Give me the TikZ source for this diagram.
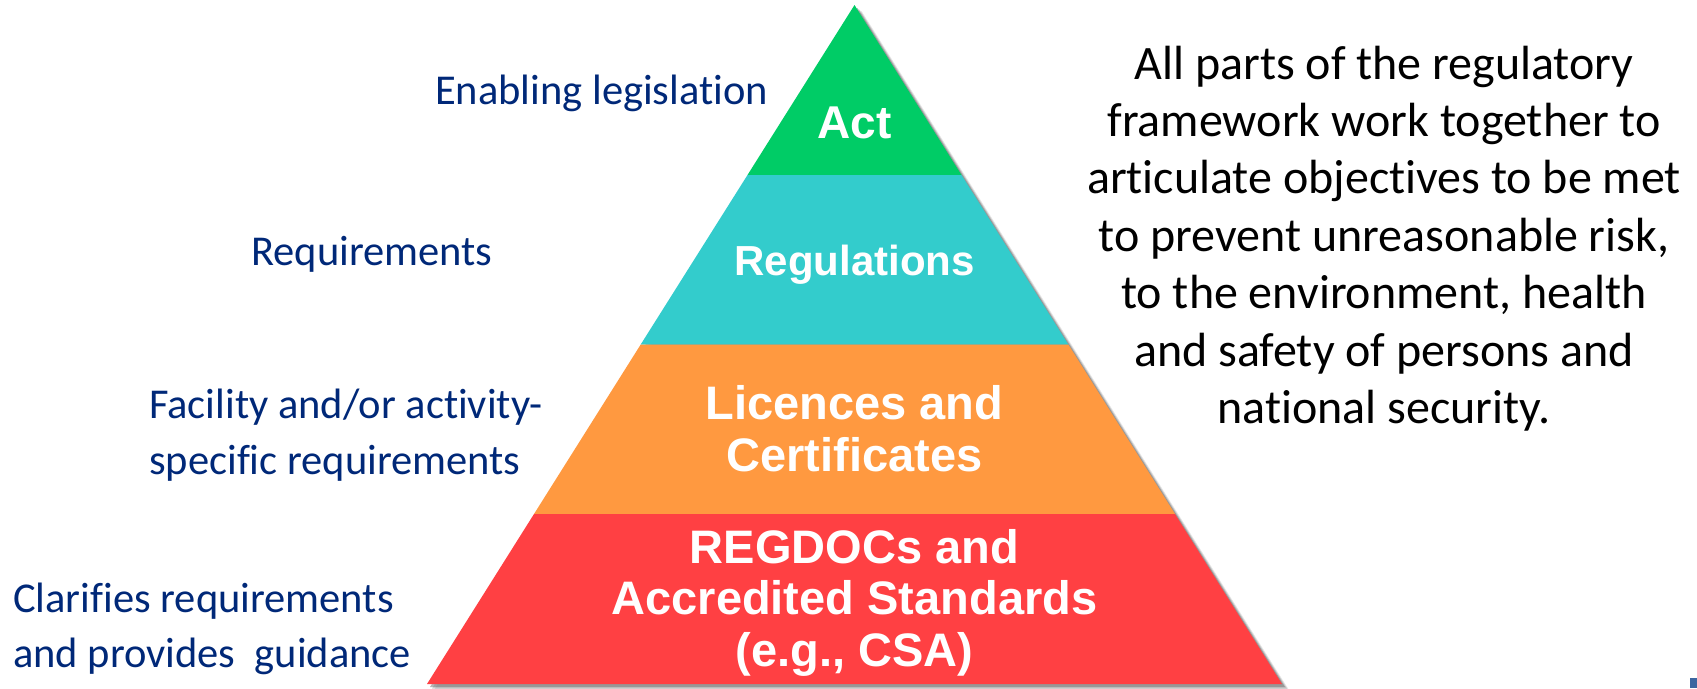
\documentclass[tikz,border=0pt]{standalone}
\usepackage{fontspec}
\setmainfont{Carlito}[RawFeature={-liga;-clig;-dlig;-calt}]
\newfontfamily\labfont{Liberation Sans}
\definecolor{actgreen}{RGB}{0,204,102}
\definecolor{regcyan}{RGB}{51,204,204}
\definecolor{licorange}{RGB}{255,153,64}
\definecolor{docred}{RGB}{255,64,67}
\definecolor{navy}{RGB}{0,40,120}
\definecolor{shadowgray}{RGB}{110,110,110}
\definecolor{cornerblue}{RGB}{60,102,160}
\tikzset{
  side/.style={anchor=base west, inner sep=0pt, text=navy, font=\fontsize{42.5}{52}\selectfont},
  note/.style={anchor=base, inner sep=0pt, text=black, font=\fontsize{48}{57}\selectfont},
  band/.style={anchor=base, inner sep=0pt, text=white, font=\labfont\bfseries\fontsize{47}{52}\selectfont},
  shadowlayer/.style={fill=shadowgray, draw=none}
}
\begin{document}
\begin{tikzpicture}[x=1pt,y=-1pt]
\useasboundingbox (0,0) rectangle (1697,688);
% pyramid corners and band boundaries
\coordinate (apex) at (854.5,5);
\coordinate (bl) at (427,684);
\coordinate (br) at (1282,684);
\coordinate (l1) at (747.5,175);  \coordinate (r1) at (961.5,175);
\coordinate (l2) at (640.7,344.5);\coordinate (r2) at (1068.3,344.5);
\coordinate (l3) at (534,514);    \coordinate (r3) at (1175,514);
% soft shadow
\fill[shadowlayer, opacity=0.18] ([shift={(7,6)}]apex) -- ([shift={(7,6)}]br) -- ([shift={(7,6)}]bl) -- cycle;
\fill[shadowlayer, opacity=0.30] ([shift={(5,4.5)}]apex) -- ([shift={(5,4.5)}]br) -- ([shift={(5,4.5)}]bl) -- cycle;
\fill[shadowlayer, opacity=0.50] ([shift={(3,3)}]apex) -- ([shift={(3,3)}]br) -- ([shift={(3,3)}]bl) -- cycle;
% bands
\fill[actgreen] (apex) -- (r1) -- (l1) -- cycle;
\fill[regcyan] (l1) -- (r1) -- (r2) -- (l2) -- cycle;
\fill[licorange] (l2) -- (r2) -- (r3) -- (l3) -- cycle;
\fill[docred] (l3) -- (r3) -- (br) -- (bl) -- cycle;
% band labels
\node[band, font=\labfont\bfseries\fontsize{46}{52}\selectfont] (act) at (854.5,138) {Act};
\node[band, font=\labfont\bfseries\fontsize{42}{50}\selectfont] (regs) at (854.5,275) {Regulations};
\node[band] (lic1) at (854.5,419) {Licences and};
\node[band] (lic2) at (854.5,471) {Certificates};
\node[band] (doc1) at (854.5,563) {REGDOCs and};
\node[band] (doc2) at (854.5,614) {Accredited Standards};
\node[band] (doc3) at (854.5,666) {(e.g., CSA)};
% side labels
\node[side] (s1) at (435,104) {Enabling legislation};
\node[side] (s2) at (251,265) {Requirements};
\node[side] (s3a) at (149,418) {Facility and/or activity-};
\node[side] (s3b) at (149,474) {specific requirements};
\node[side] (s4a) at (13,612) {Clarifies requirements};
\node[side] (s4b) at (13,667) {and provides\ \ guidance};
% right note
\node[note] (n1) at (1384,79) {All parts of the regulatory};
\node[note] (n2) at (1384,136.4) {framework work together to};
\node[note] (n3) at (1384,193.8) {articulate objectives to be met};
\node[note] (n4) at (1384,251.2) {to prevent unreasonable risk,};
\node[note] (n5) at (1384,308.6) {to the environment, health};
\node[note] (n6) at (1384,366) {and safety of persons and};
\node[note] (n7) at (1384,423.4) {national security.};
% corner mark
\fill[cornerblue] (1690,678) rectangle (1697,688);
\end{tikzpicture}
\end{document}
